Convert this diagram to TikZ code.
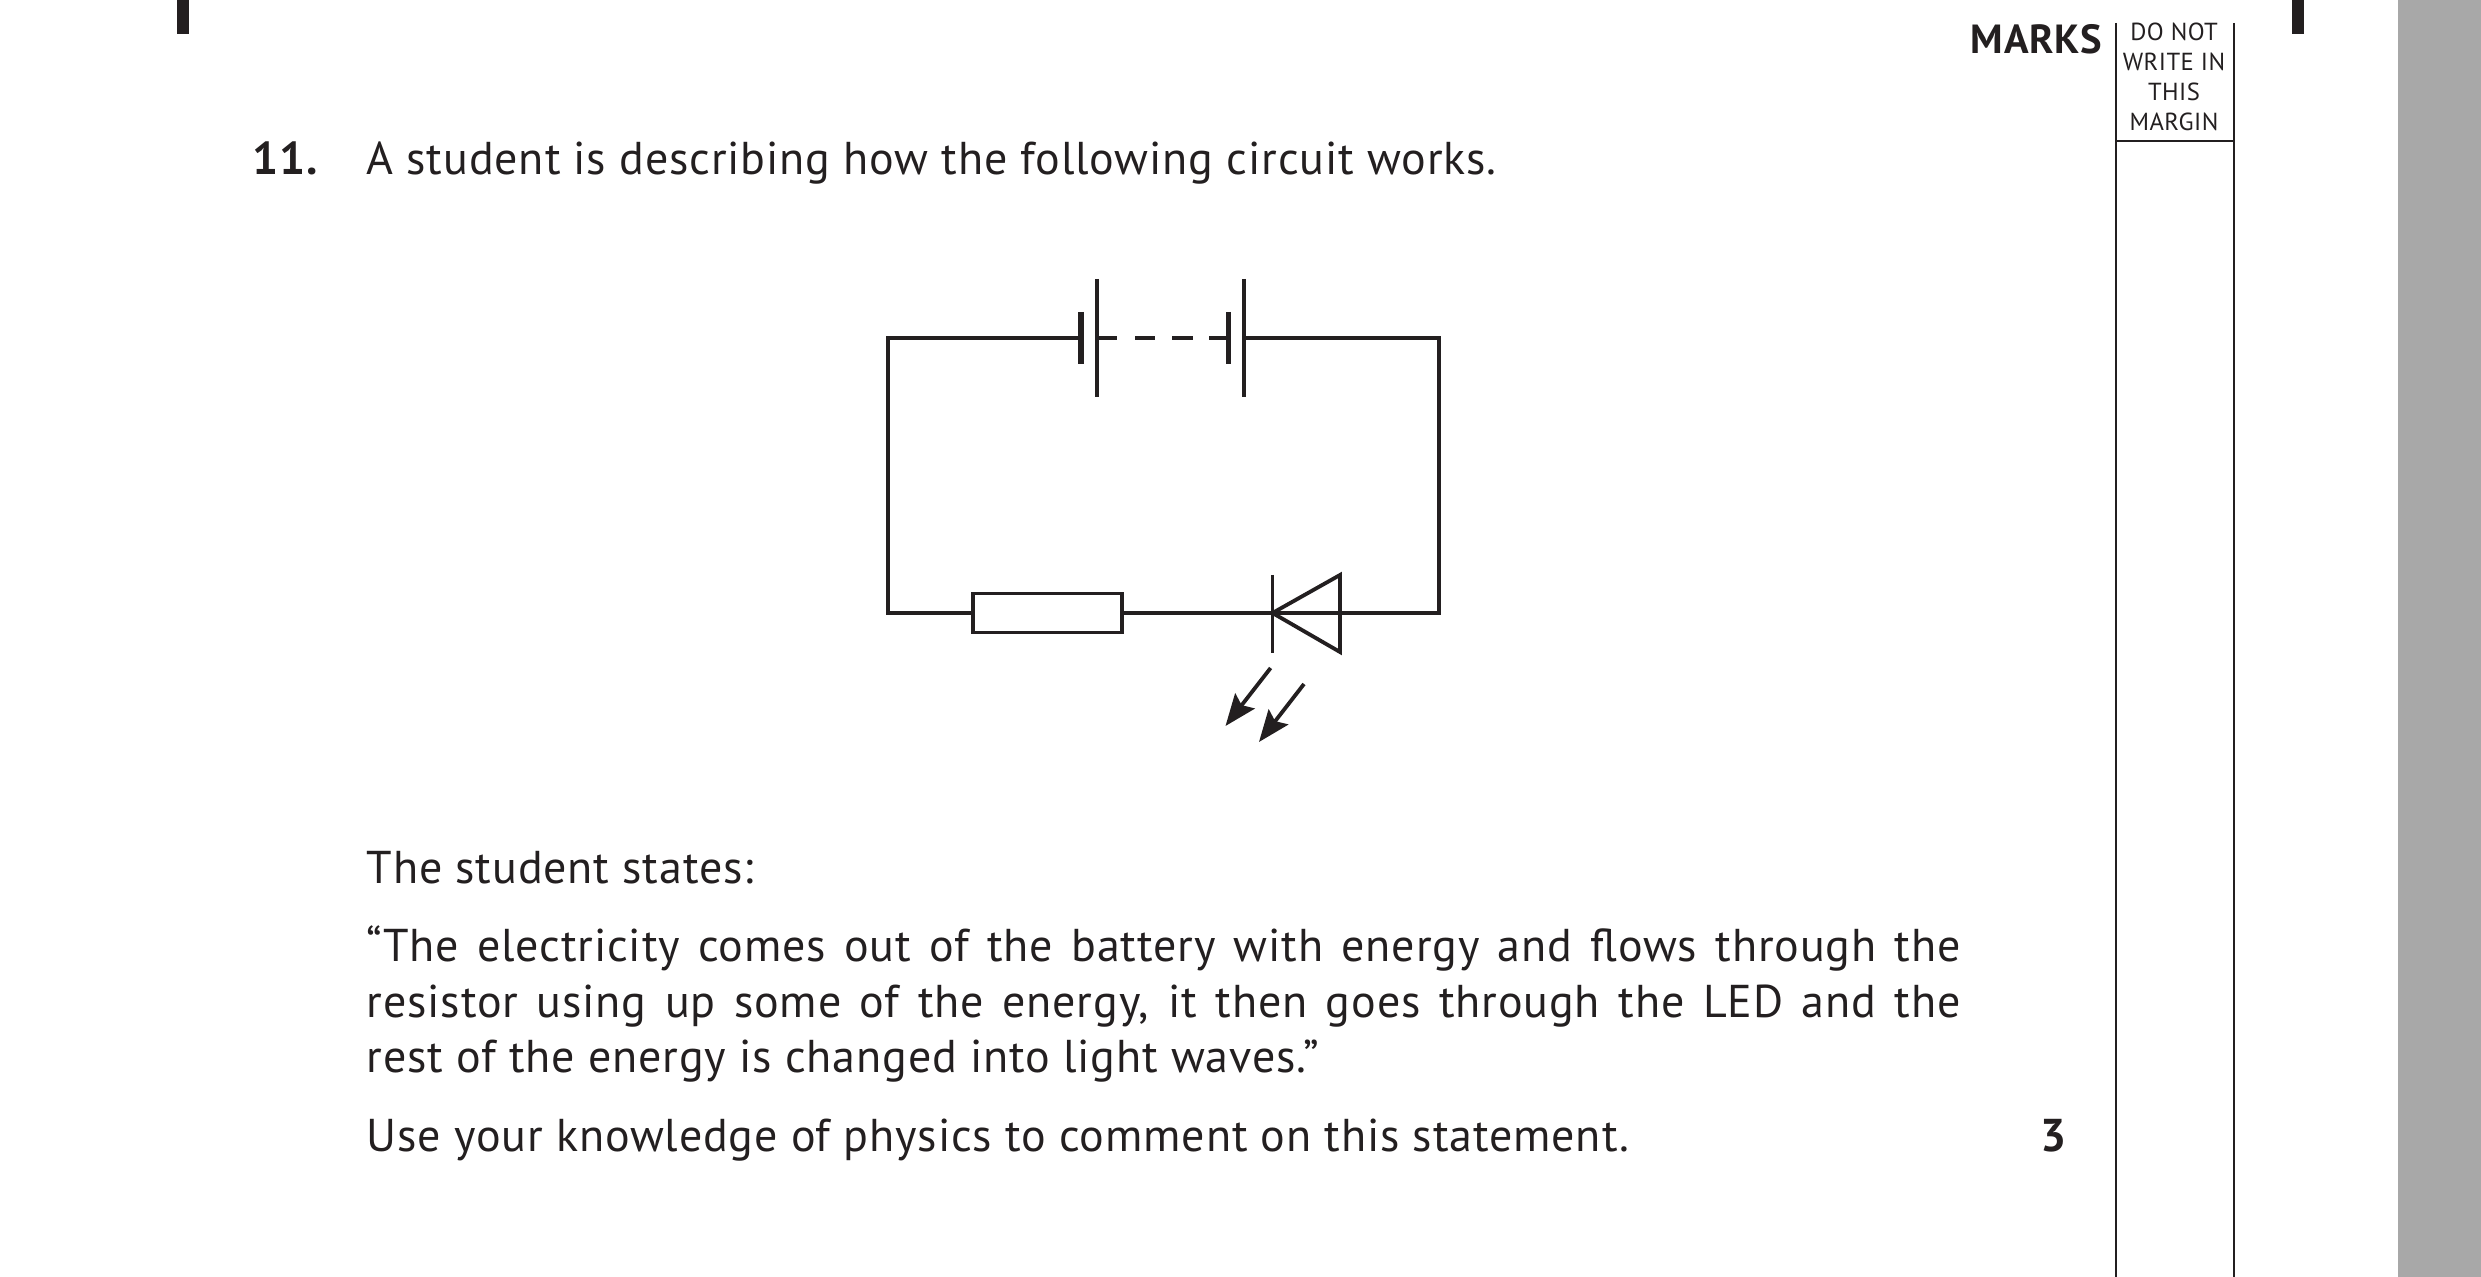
\documentclass[tikz,border=0pt]{standalone}
\usepackage{fontspec}
\setmainfont[LetterSpace=1.9]{PT Sans}
\usetikzlibrary{arrows.meta}
\definecolor{ink}{HTML}{231F20}
\definecolor{band}{HTML}{A8A8A8}
\begin{document}
\begin{tikzpicture}[x=0.3pt, y=-0.3pt, >={Stealth[length=9.5pt, width=7.4pt, inset=1.6pt]},
    wire/.style={draw=ink, line width=1.15pt},
    thickplate/.style={draw=ink, line width=1.7pt},
    marginrule/.style={draw=ink, line width=0.5pt},
    cropmark/.style={fill=ink, draw=none},
    body/.style={anchor=base west, inner sep=0pt, text=ink, font=\fontsize{13.8}{16.6}\selectfont},
    small/.style={anchor=base, inner sep=0pt, text=ink, font=\fontsize{7.4}{9}\selectfont},
    resistor/.style={draw=ink, line width=1.15pt, fill=white, minimum width=44.7pt, minimum height=11.7pt, inner sep=0pt}]
    \useasboundingbox (0,0) rectangle (2481,1277);
    \fill[band] (2398,0) rectangle (2481,1277);
    \fill[cropmark] (177,0) rectangle (189,34);
    \fill[cropmark] (2292,0) rectangle (2304,34);

    % margin column
    \coordinate (ml) at (2116,23);
    \coordinate (mr) at (2234,23);
    \coordinate (mlb) at (2116,1277);
    \coordinate (mrb) at (2234,1277);
    \coordinate (mh1) at (2116,141);
    \coordinate (mh2) at (2234,141);
    \draw[marginrule] (ml) -- (mlb);
    \draw[marginrule] (mr) -- (mrb);
    \draw[marginrule] (mh1) -- (mh2);
    \node[body, anchor=base east, font=\fontsize{12.2}{15}\bfseries\selectfont] (marks) at (2103,54) {MARKS};
    \node[small] (m1) at (2174,41) {DO NOT};
    \node[small] (m2) at (2174,71) {WRITE IN};
    \node[small] (m3) at (2174,101) {THIS};
    \node[small] (m4) at (2174,131) {MARGIN};

    % text
    \node[body, font=\fontsize{13.8}{16.6}\bfseries\selectfont] (qnum) at (252,175) {11.};
    \node[body] (qtext) at (366,175) {A student is describing how the following circuit works.};
    \node[body] (states) at (366,884) {The student states:};
    \node[body, text width=478.2pt, align=justify] (quote) at (366,962) {“The electricity comes out of the battery with energy and flows through the\linebreak resistor using up some of the energy, it then goes through the LED and the\linebreak rest of the energy is changed into light waves.”};
    \node[body] (comment) at (366,1151) {Use your knowledge of physics to comment on this statement.};
    \node[body, anchor=base, font=\fontsize{13.8}{16.6}\bfseries\selectfont] (mark3) at (2054,1151) {3};

    % circuit
    \coordinate (tl) at (888,338);
    \coordinate (tr) at (1439,338);
    \coordinate (bl) at (888,613);
    \coordinate (br) at (1439,613);
    \node[resistor] (res) at (1047.5,613) {};
    \coordinate (c1) at (1081,338);
    \coordinate (c1s) at (1081,312);
    \coordinate (c1e) at (1081,364);
    \coordinate (c2s) at (1097,279);
    \coordinate (c2e) at (1097,397);
    \coordinate (c3s) at (1228.5,312);
    \coordinate (c3e) at (1228.5,364);
    \coordinate (c4) at (1244,338);
    \coordinate (c4s) at (1244,279);
    \coordinate (c4e) at (1244,397);
    \coordinate (d1) at (1272.5,613);
    \coordinate (d1s) at (1272.5,575);
    \coordinate (d1e) at (1272.5,653);
    \coordinate (d2) at (1340,575);
    \coordinate (d3) at (1340,652);
    \coordinate (dr) at (1340,613);
    \coordinate (a1s) at (1270.6,668);
    \coordinate (a1e) at (1225.5,726);
    \coordinate (a2s) at (1304,684);
    \coordinate (a2e) at (1259,742);

    \draw[wire] (c1) -- (tl) -- (bl) -- (res);
    \draw[wire] (res) -- (d1);
    \draw[wire] (dr) -- (br) -- (tr) -- (c4);
    \draw[wire] (d1s) -- (d1e);
    \draw[wire, line join=miter] (d1) -- (d2) -- (d3) -- cycle;
    \draw[wire] (d1) -- (dr);
    \draw[thickplate] (c1s) -- (c1e);
    \draw[thickplate] (c3s) -- (c3e);
    \draw[wire] (c2s) -- (c2e);
    \draw[wire] (c4s) -- (c4e);
    \foreach \xa/\xb in {1099/1117, 1135/1155, 1172/1193, 1209/1226}
        \draw[wire] (\xa,338) -- (\xb,338);
    \draw[wire, ->] (a1s) -- (a1e);
    \draw[wire, ->] (a2s) -- (a2e);
\end{tikzpicture}
\end{document}
